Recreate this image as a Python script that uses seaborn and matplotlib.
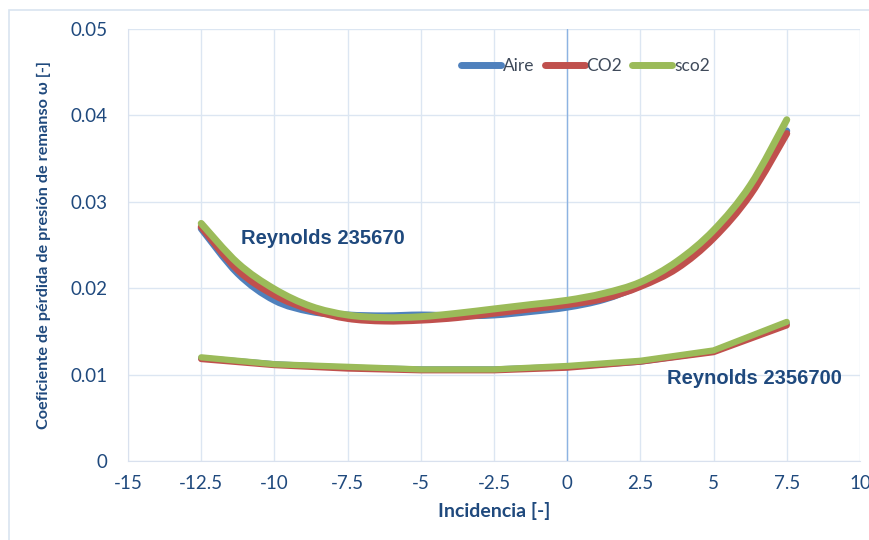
import matplotlib
matplotlib.use("Agg")
import matplotlib.pyplot as plt
from matplotlib.path import Path
from matplotlib.patches import PathPatch, Rectangle
import seaborn as sns
import pandas as pd

# Reynolds 235670 (smoothed series, read every 1.25 deg)
incidencia_lo_re = [-12.5, -11.25, -10, -8.75, -7.5, -6.25, -5, -3.75, -2.5, -1.25,
                    0, 1.25, 2.5, 3.75, 5, 6.25, 7.5]
aire_lo_re = [0.0269, 0.0217, 0.0186, 0.0173, 0.0169, 0.0168, 0.0169, 0.0168, 0.0169,
              0.0173, 0.0178, 0.0187, 0.0203, 0.0225, 0.0260, 0.0310, 0.0382]
co2_lo_re = [0.0271, 0.0221, 0.0192, 0.0175, 0.0165, 0.0162, 0.0163, 0.0166, 0.0171,
             0.0176, 0.0181, 0.0188, 0.0202, 0.0223, 0.0258, 0.0308, 0.0379]
sco2_lo_re = [0.0275, 0.0229, 0.0199, 0.0179, 0.0169, 0.0166, 0.0167, 0.0171, 0.0176,
              0.0181, 0.0186, 0.0194, 0.0207, 0.0231, 0.0267, 0.0319, 0.0395]

# Reynolds 2356700
incidencia_hi_re = [-12.5, -10, -7.5, -5, -2.5, 0, 2.5, 5, 7.5]
aire_hi_re = [0.0119, 0.0112, 0.0108, 0.0106, 0.0106, 0.0109, 0.0115, 0.0127, 0.0159]
co2_hi_re = [0.0118, 0.0111, 0.0107, 0.0105, 0.0105, 0.0108, 0.0115, 0.0126, 0.0157]
sco2_hi_re = [0.0120, 0.0112, 0.0109, 0.0106, 0.0106, 0.0110, 0.0116, 0.0128, 0.0161]

fluids = ["Aire", "CO2", "sco2"]
colors = {"Aire": "#4F81BD", "CO2": "#C0504D", "sco2": "#9BBB59"}
text_col = "#1F497D"
grid_col = "#DCE6F2"


def smooth_path(xs, ys):
    # Excel-like smoothed line: Catmull-Rom converted to cubic Bezier segments
    pts = list(zip(xs, ys))
    verts = [pts[0]]
    codes = [Path.MOVETO]
    n = len(pts)
    for i in range(n - 1):
        p0 = pts[i - 1] if i > 0 else pts[i]
        p1 = pts[i]
        p2 = pts[i + 1]
        p3 = pts[i + 2] if i + 2 < n else pts[i + 1]
        c1 = (p1[0] + (p2[0] - p0[0]) / 6, p1[1] + (p2[1] - p0[1]) / 6)
        c2 = (p2[0] - (p3[0] - p1[0]) / 6, p2[1] - (p3[1] - p1[1]) / 6)
        verts += [c1, c2, p2]
        codes += [Path.CURVE4] * 3
    return Path(verts, codes)


sns.set_style("white")
plt.rcParams["font.family"] = ["Lato", "DejaVu Sans"]

df_hi = pd.DataFrame({
    "Incidencia": incidencia_hi_re * 3,
    "omega": aire_hi_re + co2_hi_re + sco2_hi_re,
    "Fluido": ["Aire"] * 9 + ["CO2"] * 9 + ["sco2"] * 9,
})

fig = plt.figure(figsize=(8.69, 5.40), dpi=100)
ax = fig.add_axes([0.1473, 0.1463, 0.8423, 0.8000])

# chart-area border (left and top edges visible)
fig.patches.append(Rectangle((9 / 869, -0.1), 2, 1.1 - 10 / 540, transform=fig.transFigure,
                             fill=False, edgecolor="#D9E4F0", lw=1.2, zorder=0))

ax.set_xlim(-15, 10)
ax.set_ylim(0, 0.05)
ax.set_xticks([-15, -12.5, -10, -7.5, -5, -2.5, 0, 2.5, 5, 7.5, 10])
ax.set_xticklabels(["-15", "-12.5", "-10", "-7.5", "-5", "-2.5", "0", "2.5", "5", "7.5", "10"])
ax.set_yticks([0, 0.01, 0.02, 0.03, 0.04, 0.05])
ax.set_yticklabels(["0", "0.01", "0.02", "0.03", "0.04", "0.05"])
ax.grid(True, color=grid_col, lw=1)
ax.set_axisbelow(True)
ax.axvline(0, color="#8DB3E2", lw=1, zorder=1)

upper = {"Aire": aire_lo_re, "CO2": co2_lo_re, "sco2": sco2_lo_re}
for f in fluids:
    ax.add_patch(PathPatch(smooth_path(incidencia_lo_re, upper[f]), fill=False,
                           edgecolor=colors[f], lw=5, capstyle="round", zorder=3))

sns.lineplot(data=df_hi, x="Incidencia", y="omega", hue="Fluido", palette=colors,
             lw=4.5, ax=ax, zorder=3, solid_capstyle="round")

for s in ["top", "right"]:
    ax.spines[s].set_visible(False)
for s in ["left", "bottom"]:
    ax.spines[s].set_color("#D9E1EE")

ax.tick_params(axis="both", length=0, labelsize=13.5, labelcolor=text_col)
ax.tick_params(axis="y", pad=14.5)
ax.tick_params(axis="x", pad=10)

ax.set_xlabel("Incidencia [-]", fontsize=14, fontweight="bold", color=text_col, labelpad=7)
ax.set_ylabel("Coeficiente de pérdida de presión de remanso ω [-]", fontsize=11.7,
              fontweight="bold", color=text_col, labelpad=14)

ax.text(-11.15, 0.0258, "Reynolds 235670", family=["Liberation Sans", "DejaVu Sans"],
        fontsize=14.5, fontweight="bold", color=text_col, va="center", ha="left")
ax.text(3.4, 0.0096, "Reynolds 2356700", family=["Liberation Sans", "DejaVu Sans"],
        fontsize=14.5, fontweight="bold", color=text_col, va="center", ha="left")

handles, labels = ax.get_legend_handles_labels()
for h in handles:
    h.set_linewidth(5)
    h.set_solid_capstyle("round")
ax.legend(handles, labels, loc="center", bbox_to_anchor=(0.625, 0.914), ncol=3,
          frameon=False, handlelength=2.3, handletextpad=0.1, columnspacing=0.6,
          fontsize=12.5, labelcolor="#3F4A5A")

fig.savefig("out.png", dpi=100)
